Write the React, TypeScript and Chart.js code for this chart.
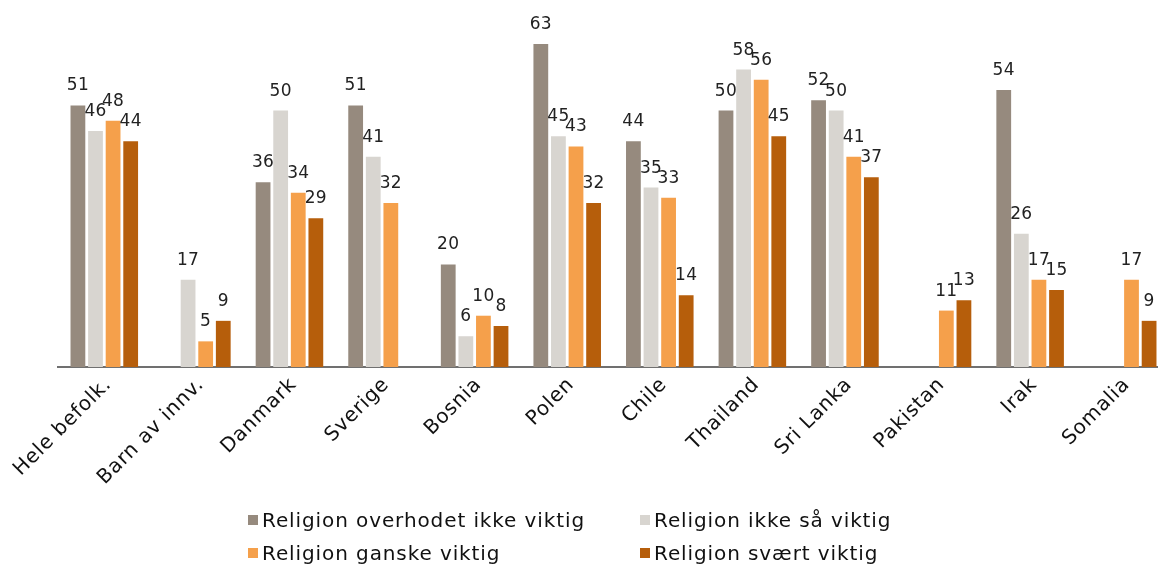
import React, { useEffect, useRef } from "react";
import { Chart, registerables } from "chart.js";

Chart.register(...registerables);

const categories = [
  "Hele befolk.",
  "Barn av innv.",
  "Danmark",
  "Sverige",
  "Bosnia",
  "Polen",
  "Chile",
  "Thailand",
  "Sri Lanka",
  "Pakistan",
  "Irak",
  "Somalia",
];

const seriesNames = [
  "Religion overhodet ikke viktig",
  "Religion ikke så viktig",
  "Religion ganske viktig",
  "Religion svært viktig",
];

const overhodetIkke = [51, null, 36, 51, 20, 63, 44, 50, 52, null, 54, null];
const ikkeSa = [46, 17, 50, 41, 6, 45, 35, 58, 50, null, 26, null];
const ganske = [48, 5, 34, 32, 10, 43, 33, 56, 41, 11, 17, 17];
const svaert = [44, 9, 29, null, 8, 32, 14, 45, 37, 13, 15, 9];

const colors = ["#968a7e", "#d8d5d0", "#f5a04b", "#b65e0b"];

const FONT = "'DejaVu Sans', Verdana, sans-serif";

const spacingPlugin = {
  id: "spacing",
  beforeLayout(chart: any) {
    chart.ctx.letterSpacing = "0.8px";
  },
  beforeDraw(chart: any) {
    chart.ctx.letterSpacing = "0.8px";
  },
};

const labelPlugin = {
  id: "valueLabels",
  afterDatasetsDraw(chart: any) {
    const ctx = chart.ctx;
    ctx.save();
    ctx.letterSpacing = "0.3px";
    ctx.font = `17px ${FONT}`;
    ctx.fillStyle = "#222";
    ctx.textAlign = "center";
    ctx.textBaseline = "alphabetic";
    chart.data.datasets.forEach((ds: any, di: number) => {
      const meta = chart.getDatasetMeta(di);
      meta.data.forEach((bar: any, i: number) => {
        const v = ds.data[i];
        if (v === null || v === undefined) return;
        ctx.fillText(String(v), bar.x, bar.y - 15);
      });
    });
    ctx.restore();
  },
};

const legendPlugin = {
  id: "customLegend",
  afterDraw(chart: any) {
    const ctx = chart.ctx;
    ctx.save();
    ctx.letterSpacing = "0.9px";
    ctx.font = `20px ${FONT}`;
    ctx.textBaseline = "alphabetic";
    ctx.textAlign = "left";
    const cols = [248, 640];
    const rows = [527, 560];
    seriesNames.forEach((name, i) => {
      const x = cols[i % 2];
      const y = rows[Math.floor(i / 2)];
      ctx.fillStyle = colors[i];
      ctx.fillRect(x, y - 12, 10, 10);
      ctx.fillStyle = "#111";
      ctx.fillText(name, x + 14, y);
    });
    ctx.restore();
  },
};

export default function App() {
  const ref = useRef<HTMLCanvasElement>(null);
  useEffect(() => {
    if (!ref.current) return;
    const data = [overhodetIkke, ikkeSa, ganske, svaert];
    const chart = new Chart(ref.current, {
      type: "bar",
      data: {
        labels: categories,
        datasets: data.map((d, i) => ({
          label: seriesNames[i],
          data: d,
          backgroundColor: colors[i],
          categoryPercentage: 0.76,
          barPercentage: 0.84,
        })),
      },
      options: {
        animation: false,
        responsive: false,
        maintainAspectRatio: false,
        layout: { padding: { left: 58, top: 8, right: 0, bottom: 0 } },
        plugins: {
          legend: { display: false },
          tooltip: { enabled: false },
        },
        scales: {
          x: {
            grid: { display: false, drawTicks: false },
            border: { display: true, color: "#707070", width: 2 },
            ticks: {
              minRotation: 45,
              maxRotation: 45,
              padding: 6,
              labelOffset: 4,
              color: "#111",
              font: { family: FONT, size: 20 },
            },
            afterFit(scale: any) {
              scale.height = 198;
            },
          },
          y: {
            display: false,
            min: 0,
            max: 70,
          },
        },
      },
      plugins: [spacingPlugin, labelPlugin, legendPlugin],
    });
    return () => chart.destroy();
  }, []);
  return (
    <div style={{ position: "absolute", left: 0, top: 0, width: 1158, height: 565, overflow: "hidden", background: "#fff" }}>
      <canvas ref={ref} width={1169} height={565} style={{ display: "block" }} />
    </div>
  );
}
